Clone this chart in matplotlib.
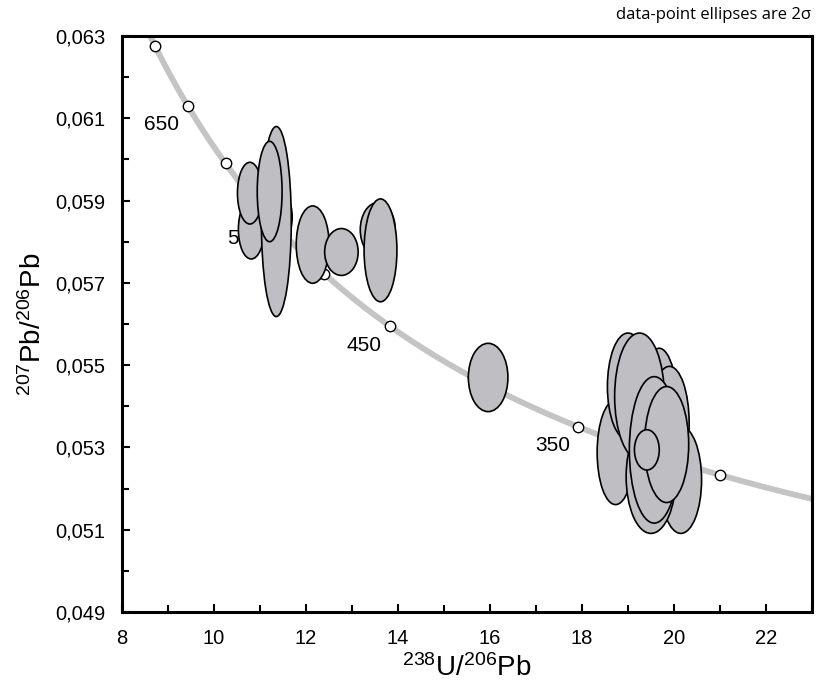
import matplotlib.pyplot as plt
import numpy as np
from matplotlib.patches import Ellipse
from matplotlib.ticker import FixedLocator, FuncFormatter, MultipleLocator

plt.rcParams['font.family'] = ['Liberation Sans', 'DejaVu Sans']
plt.rcParams['mathtext.fontset'] = 'custom'
plt.rcParams['mathtext.rm'] = 'Liberation Sans'
plt.rcParams['mathtext.default'] = 'regular'

# Concordia (Tera-Wasserburg) - decay constants, 1/yr
L238 = 1.55125e-10
L235 = 9.8485e-10
U_RATIO = 137.88

# axis ticks
y_major = [0.049, 0.051, 0.053, 0.055, 0.057, 0.059, 0.061, 0.063]
y_minor = [0.050, 0.052, 0.054, 0.056, 0.058, 0.060, 0.062]

# age markers along concordia (Ma) and which ones get a label
marker_ages = [700, 650, 600, 550, 500, 450, 400, 350, 300]
label_ages = [650, 550, 450, 350]

# data-point ellipses (2 sigma): centre and half-axes, back to front
ell_x = [11.35, 10.81, 11.355, 10.78, 11.21,
         12.145, 12.77, 13.56, 13.62,
         15.96,
         19.68, 19.90, 18.73, 20.15, 19.50, 19.00, 19.25, 19.57, 19.84, 19.41]
ell_y = [0.0586, 0.05830, 0.05849, 0.05918, 0.05922,
         0.05793, 0.05775, 0.05829, 0.05779,
         0.05470,
         0.05367, 0.05359, 0.05288, 0.05221, 0.05229, 0.05448, 0.05424, 0.05294, 0.05307, 0.05294]
ell_sx = [0.35, 0.28, 0.325, 0.27, 0.27,
          0.357, 0.364, 0.38, 0.357,
          0.43,
          0.43, 0.43, 0.40, 0.45, 0.54, 0.447, 0.54, 0.54, 0.48, 0.27]
ell_sy = [0.0007, 0.00072, 0.00231, 0.00075, 0.00122,
          0.00094, 0.00057, 0.00066, 0.00125,
          0.00083,
          0.00174, 0.00138, 0.00127, 0.0013, 0.00138, 0.0013, 0.00154, 0.00178, 0.00141, 0.00049]


def concordia(t_ma):
    t = np.asarray(t_ma) * 1e6
    e238 = np.exp(L238 * t) - 1
    e235 = np.exp(L235 * t) - 1
    return 1 / e238, e235 / e238 / U_RATIO


fig = plt.figure(figsize=(8.21, 6.99), dpi=100)
ax = fig.add_axes([0.1486, 0.1245, 0.8404, 0.824])

# concordia curve
ages = np.linspace(250, 800, 400)
cx, cy = concordia(ages)
ax.plot(cx, cy, color='#c4c4c4', lw=4.2, zorder=1, solid_capstyle='butt')

mx, my = concordia(marker_ages)
ax.plot(mx, my, 'o', ms=7.5, mfc='white', mec='black', mew=1.0, zorder=2)

for a in label_ages:
    x, y = concordia(a)
    ax.annotate(str(a), (x, y), xytext=(-26, -19), textcoords='offset pixels',
                ha='center', va='center', fontsize=15, zorder=2)

# ellipses
for i in range(len(ell_x)):
    e = Ellipse((ell_x[i], ell_y[i]), 2 * ell_sx[i], 2 * ell_sy[i],
                facecolor='#bebec3', edgecolor='black', lw=1.2, zorder=3 + i)
    ax.add_patch(e)

ax.set_xlim(8, 23)
ax.set_ylim(0.049, 0.063)

ax.xaxis.set_major_locator(MultipleLocator(2))
ax.xaxis.set_minor_locator(MultipleLocator(1))
ax.yaxis.set_major_locator(FixedLocator(y_major))
ax.yaxis.set_minor_locator(FixedLocator(y_minor))
ax.yaxis.set_major_formatter(FuncFormatter(lambda v, p: ('%.3f' % v).replace('.', ',')))

ax.tick_params(which='both', direction='in', width=1.5, top=False, right=False)
ax.tick_params(which='major', length=6, labelsize=14.5)
ax.tick_params(which='minor', length=5)
ax.tick_params(axis='x', pad=12)
ax.tick_params(axis='y', pad=12)

for s in ax.spines.values():
    s.set_linewidth(2.2)

ax.set_xlabel(r'$^{238}$U/$^{206}$Pb', fontsize=20, labelpad=5)
ax.set_ylabel(r'$^{207}$Pb/$^{206}$Pb', fontsize=20, labelpad=6)

fig.text(0.988, 0.978, 'data-point ellipses are 2σ', ha='right', va='center',
         fontsize=12, family='Open Sans')

fig.savefig('out.png', dpi=100)
